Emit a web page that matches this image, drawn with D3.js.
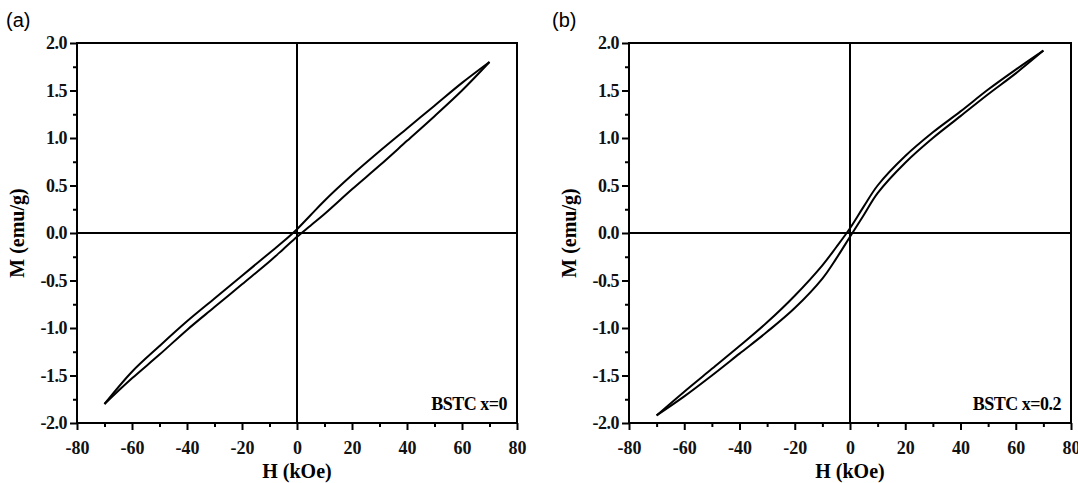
<!DOCTYPE html>
<html>
<head>
<meta charset="utf-8">
<script src="https://cdn.jsdelivr.net/npm/d3@7"></script>
<style>
  body { margin: 0; background: #fff; }
  svg text { font-family: "Times New Roman", "Liberation Serif", "DejaVu Serif", serif; }
</style>
</head>
<body>
<div id="chart"></div>
<script>
// x = 0 : descending branch (+70 -> -70), stored by increasing H
var descA = [[-70,-1.80],[-60,-1.46],[-50,-1.19],[-40,-0.93],[-30,-0.69],[-20,-0.45],[-10,-0.21],[-5,-0.09],[0,0.04],[5,0.19],[10,0.34],[20,0.61],[30,0.86],[40,1.10],[50,1.34],[60,1.58],[70,1.80]];
// x = 0 : ascending branch
var ascA  = [[-70,-1.80],[-60,-1.53],[-50,-1.28],[-40,-1.02],[-30,-0.78],[-20,-0.54],[-10,-0.30],[-5,-0.17],[0,-0.04],[5,0.08],[10,0.20],[20,0.46],[30,0.71],[40,0.97],[50,1.23],[60,1.50],[70,1.80]];
// x = 0.2
var descB = [[-70,-1.92],[-60,-1.67],[-50,-1.43],[-40,-1.19],[-30,-0.94],[-20,-0.66],[-10,-0.34],[-5,-0.15],[0,0.05],[5,0.28],[10,0.50],[20,0.81],[30,1.06],[40,1.28],[50,1.51],[60,1.72],[70,1.92]];
var ascB  = [[-70,-1.92],[-60,-1.72],[-50,-1.50],[-40,-1.27],[-30,-1.04],[-20,-0.79],[-10,-0.48],[-5,-0.27],[0,-0.04],[5,0.19],[10,0.42],[20,0.74],[30,1.00],[40,1.23],[50,1.46],[60,1.68],[70,1.92]];

var xTicks = [-80,-60,-40,-20,0,20,40,60,80];
var yTicks = [-2.0,-1.5,-1.0,-0.5,0.0,0.5,1.0,1.5,2.0];
var panelTags = ["(a)", "(b)"];
var sampleLabels = ["BSTC x=0", "BSTC x=0.2"];

var W = 1078, H = 483;
var svg = d3.select("#chart").append("svg")
    .attr("width", W)
    .attr("height", H);

var serif = "'Times New Roman', 'Liberation Serif', 'DejaVu Serif', serif";
var hy = function(s){ return s.replace("\u2212", "-"); };

function drawPanel(left, right, tag, label, branches, tagX) {
  var top = 43, bottom = 423;
  var x = d3.scaleLinear().domain([-80, 80]).range([left, right]);
  var y = d3.scaleLinear().domain([-2, 2]).range([bottom, top]);
  var g = svg.append("g");

  // minor ticks
  var xMinor = d3.range(-70, 80, 20);
  var yMinor = d3.range(-1.75, 2, 0.5);

  var fx = d3.format("d"), fy = d3.format(".1f");
  var xAxis = d3.axisBottom(x).tickValues(xTicks).tickSize(7).tickPadding(11)
      .tickFormat(function(d){ return hy(fx(d)); });
  var yAxis = d3.axisLeft(y).tickValues(yTicks).tickSize(7).tickPadding(3)
      .tickFormat(function(d){ return hy(fy(d)); });

  var gx = g.append("g").attr("transform", "translate(0," + bottom + ")").call(xAxis);
  var gy = g.append("g").attr("transform", "translate(" + left + ",0)").call(yAxis);
  g.append("g").attr("transform", "translate(0," + bottom + ")")
    .call(d3.axisBottom(x).tickValues(xMinor).tickSize(4).tickFormat(""));
  g.append("g").attr("transform", "translate(" + left + ",0)")
    .call(d3.axisLeft(y).tickValues(yMinor).tickSize(4).tickFormat(""));

  g.selectAll("g").attr("font-family", serif);
  g.selectAll(".domain").remove();
  g.selectAll(".tick line").attr("stroke", "#000").attr("stroke-width", 2);
  g.selectAll(".tick text")
    .attr("font-family", serif)
    .attr("font-weight", "bold")
    .attr("font-size", 18)
    .attr("fill", "#111");
  gy.selectAll(".tick text").attr("letter-spacing", "-0.5px");

  // zero lines
  g.append("line")
    .attr("x1", left).attr("x2", right)
    .attr("y1", y(0)).attr("y2", y(0))
    .attr("stroke", "#000").attr("stroke-width", 2);
  g.append("line")
    .attr("x1", x(0)).attr("x2", x(0))
    .attr("y1", top).attr("y2", bottom)
    .attr("stroke", "#000").attr("stroke-width", 2);

  // frame
  g.append("rect")
    .attr("x", left).attr("y", top)
    .attr("width", right - left).attr("height", bottom - top)
    .attr("fill", "none").attr("stroke", "#000").attr("stroke-width", 2);

  var line = d3.line()
    .x(function(d){ return x(d[0]); })
    .y(function(d){ return y(d[1]); })
    .curve(d3.curveCatmullRom.alpha(0.5));

  branches.forEach(function(b) {
    g.append("path")
      .attr("d", line(b))
      .attr("fill", "none")
      .attr("stroke", "#000")
      .attr("stroke-width", 2);
  });

  // sample label
  g.append("text")
    .attr("x", right - 10).attr("y", 410)
    .attr("text-anchor", "end")
    .attr("font-family", serif)
    .attr("font-weight", "bold")
    .attr("font-size", 18)
    .attr("letter-spacing", "-0.5px")
    .text(label);

  // axis titles
  g.append("text")
    .attr("x", (left + right) / 2).attr("y", 478)
    .attr("text-anchor", "middle")
    .attr("font-family", serif)
    .attr("font-weight", "bold")
    .attr("font-size", 20)
    .text("H (kOe)");
  g.append("text")
    .attr("transform", "translate(" + (left - 53) + "," + ((top + bottom) / 2) + ") rotate(-90)")
    .attr("text-anchor", "middle")
    .attr("font-family", serif)
    .attr("font-weight", "bold")
    .attr("font-size", 20)
    .text("M (emu/g)");

  // panel tag
  g.append("text")
    .attr("x", tagX).attr("y", 27)
    .attr("font-family", "'Liberation Sans', Arial, sans-serif")
    .style("font-family", "'Liberation Sans', Arial, sans-serif")
    .attr("font-size", 20)
    .text(tag);
}

drawPanel(77, 517, panelTags[0], sampleLabels[0], [descA, ascA], 6);
drawPanel(629, 1071, panelTags[1], sampleLabels[1], [descB, ascB], 552);
</script>
</body>
</html>
